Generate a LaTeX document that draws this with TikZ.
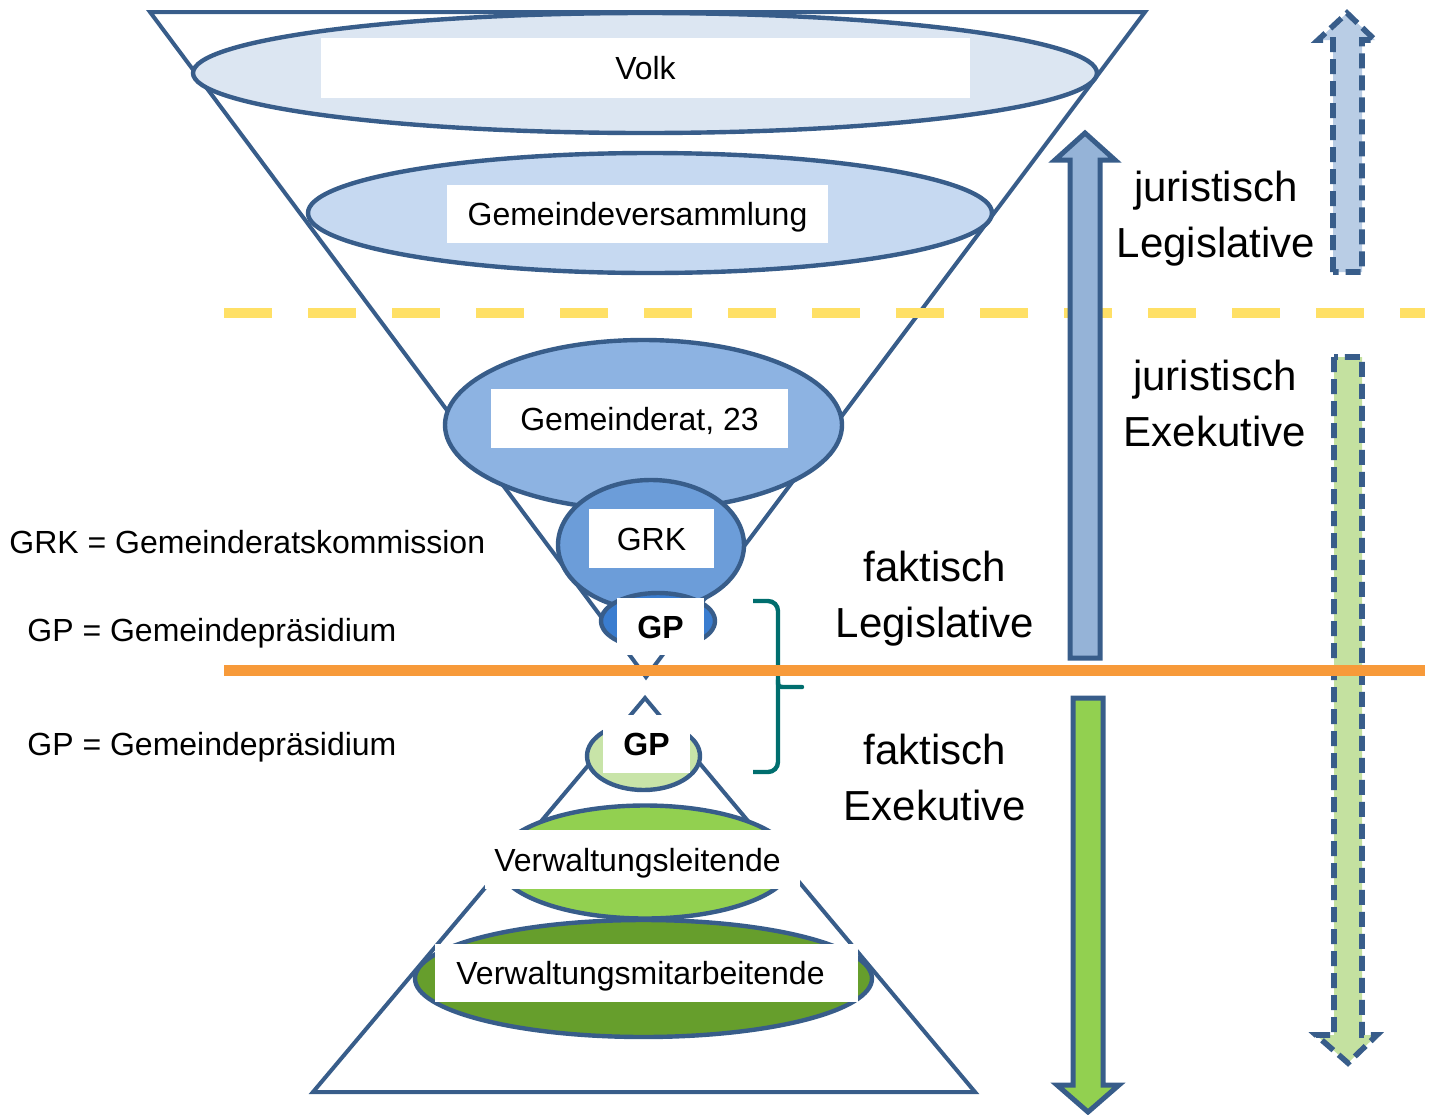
\documentclass[tikz,border=0pt]{standalone}
\usepackage{fontspec}
\setmainfont{Liberation Sans}
\usetikzlibrary{shapes.geometric}
\definecolor{outl}{RGB}{56,93,138}
\definecolor{cVolk}{RGB}{220,230,242}
\definecolor{cGV}{RGB}{198,217,241}
\definecolor{cGR}{RGB}{141,179,226}
\definecolor{cGRK}{RGB}{108,157,217}
\definecolor{cGPa}{RGB}{58,125,208}
\definecolor{cGPb}{RGB}{200,228,168}
\definecolor{cVL}{RGB}{146,208,80}
\definecolor{cVM}{RGB}{102,158,44}
\definecolor{cUp}{RGB}{149,179,215}
\definecolor{cDown}{RGB}{146,208,80}
\definecolor{cUpD}{RGB}{185,205,229}
\definecolor{cDownD}{RGB}{196,225,160}
\definecolor{cYel}{RGB}{255,224,102}
\definecolor{cOra}{RGB}{247,154,58}
\definecolor{cTeal}{RGB}{0,110,110}
\tikzset{
  ell/.style={ellipse, draw=outl, line width=2.2pt, inner sep=0pt},
  lbl/.style={fill=white, inner sep=0pt, font=\fontsize{16}{19}\selectfont, text height=13.76pt, text depth=2.24pt},
  side/.style={font=\fontsize{16}{19}\selectfont, inner sep=0pt, anchor=west, text height=13.76pt, text depth=2.24pt},
  big/.style={font=\fontsize{21}{28}\selectfont, align=center, inner sep=0pt},
  tri/.style={draw=outl, line width=2pt, line join=miter},
  solidarr/.style={draw=outl, line width=2.5pt, line join=miter},
  dasharr/.style={draw=outl, line width=2.8pt, dash pattern=on 7.5pt off 3.5pt, line join=miter},
}
\begin{document}
\begin{tikzpicture}[x=0.5pt,y=-0.5pt]
\useasboundingbox (0,0) rectangle (1432,1115);

% funnel (inverted triangle)
\coordinate (fTL) at (150,12);
\coordinate (fTR) at (1145,12);
\coordinate (fA) at (646,677);
\draw[tri] (fTL) -- (fTR) -- (fA) -- cycle;

% pyramid
\coordinate (pA) at (645,698);
\coordinate (pBL) at (313,1092);
\coordinate (pBR) at (975,1092);
\draw[tri] (pA) -- (pBR) -- (pBL) -- cycle;

% ellipses
\node[ell, fill=cVolk, minimum width=452pt, minimum height=60pt] (eVolk) at (645,73) {};
\node[ell, fill=cGV, minimum width=342pt, minimum height=60pt] (eGV) at (650,213) {};
\node[ell, fill=cGR, minimum width=198.5pt, minimum height=85pt] (eGR) at (643.5,425) {};
\node[ell, fill=cGRK, minimum width=93pt, minimum height=65pt] (eGRK) at (651,545) {};
\node[ell, fill=cGPa, minimum width=57pt, minimum height=28pt] (eGPa) at (658,621) {};
\node[ell, fill=cGPb, minimum width=56.5pt, minimum height=34pt] (eGPb) at (643.5,756) {};
\node[ell, fill=cVL, minimum width=148pt, minimum height=56.5pt] (eVL) at (645,862) {};
\node[ell, fill=cVM, minimum width=228.5pt, minimum height=58.5pt] (eVM) at (643.5,978.5) {};

% label boxes
\node[lbl, minimum width=324.5pt, minimum height=30pt] (lVolk) at (645.5,68) {Volk};
\node[lbl, minimum width=190.5pt, minimum height=29pt] (lGV) at (637.5,214) {Gemeindeversammlung};
\node[lbl, minimum width=148.5pt, minimum height=29.5pt] (lGR) at (639.5,418.5) {Gemeinderat, 23};
\node[lbl, minimum width=62.5pt, minimum height=29.5pt] (lGRK) at (651.5,538.5) {GRK};
\node[lbl, minimum width=43.5pt, minimum height=28.5pt, font=\fontsize{16}{19}\selectfont\bfseries] (lGPa) at (660.5,626.5) {GP};
\node[lbl, minimum width=43.5pt, minimum height=29pt, font=\fontsize{16}{19}\selectfont\bfseries] (lGPb) at (646.5,744) {GP};
\node[lbl, minimum width=157.5pt, minimum height=29.5pt] (lVL) at (642.5,859.5) {\hspace*{-5pt}Verwaltungsleitende};
\node[lbl, minimum width=211.5pt, minimum height=29pt] (lVM) at (646.5,973) {\hspace*{-6pt}Verwaltungsmitarbeitende};

% yellow dashed line
\coordinate (yL) at (224,313);
\coordinate (yR) at (1425,313);
\draw[cYel, line width=5pt, dash pattern=on 24pt off 18pt] (yL) -- (yR);

% solid up arrow (blue)
\draw[solidarr, fill=cUp] (1070,658) -- (1070,160) -- (1055,160) -- (1085,133) -- (1115,160) -- (1100,160) -- (1100,658) -- cycle;
% solid down arrow (green)
\draw[solidarr, fill=cDown] (1073,698) -- (1073,1085) -- (1057,1085) -- (1088,1112) -- (1119,1085) -- (1103,1085) -- (1103,698) -- cycle;
% dashed up arrow
\draw[dasharr, fill=cUpD] (1333,272) -- (1333,40) -- (1318,40) -- (1347,13) -- (1375,40) -- (1362,40) -- (1362,272) -- cycle;
% dashed down arrow
\draw[dasharr, fill=cDownD] (1334,357) -- (1334,1035) -- (1316,1035) -- (1348,1063) -- (1377,1035) -- (1362,1035) -- (1362,357) -- cycle;

% brace
\coordinate (bT) at (753,601);
\coordinate (bB) at (753,772);
\coordinate (bTip) at (802,687);
\draw[cTeal, line width=2.2pt, rounded corners=5pt] (bT) -- (778,601) -- (778,772) -- (bB);
\draw[cTeal, line width=2.2pt, line cap=round] (778,680) .. controls (778,687) .. (786,687) -- (bTip);

% orange line
\coordinate (oL) at (224,670.5);
\coordinate (oR) at (1425,670.5);
\draw[cOra, line width=5.5pt] (oL) -- (oR);

% side texts
\node[side] (tGRK) at (9,542) {GRK = Gemeinderatskommission};
\node[side] (tGPa) at (27,630) {GP = Gemeindepräsidium};
\node[side] (tGPb) at (27,744) {GP = Gemeindepräsidium};

\node[big] (tJL) at (1216,219) {juristisch\\Legislative};
\node[big] (tJE) at (1215,403) {juristisch\\Exekutive};
\node[big] (tFL) at (935,599) {faktisch\\Legislative};
\node[big] (tFE) at (935,777) {faktisch\\Exekutive};
\end{tikzpicture}
\end{document}
